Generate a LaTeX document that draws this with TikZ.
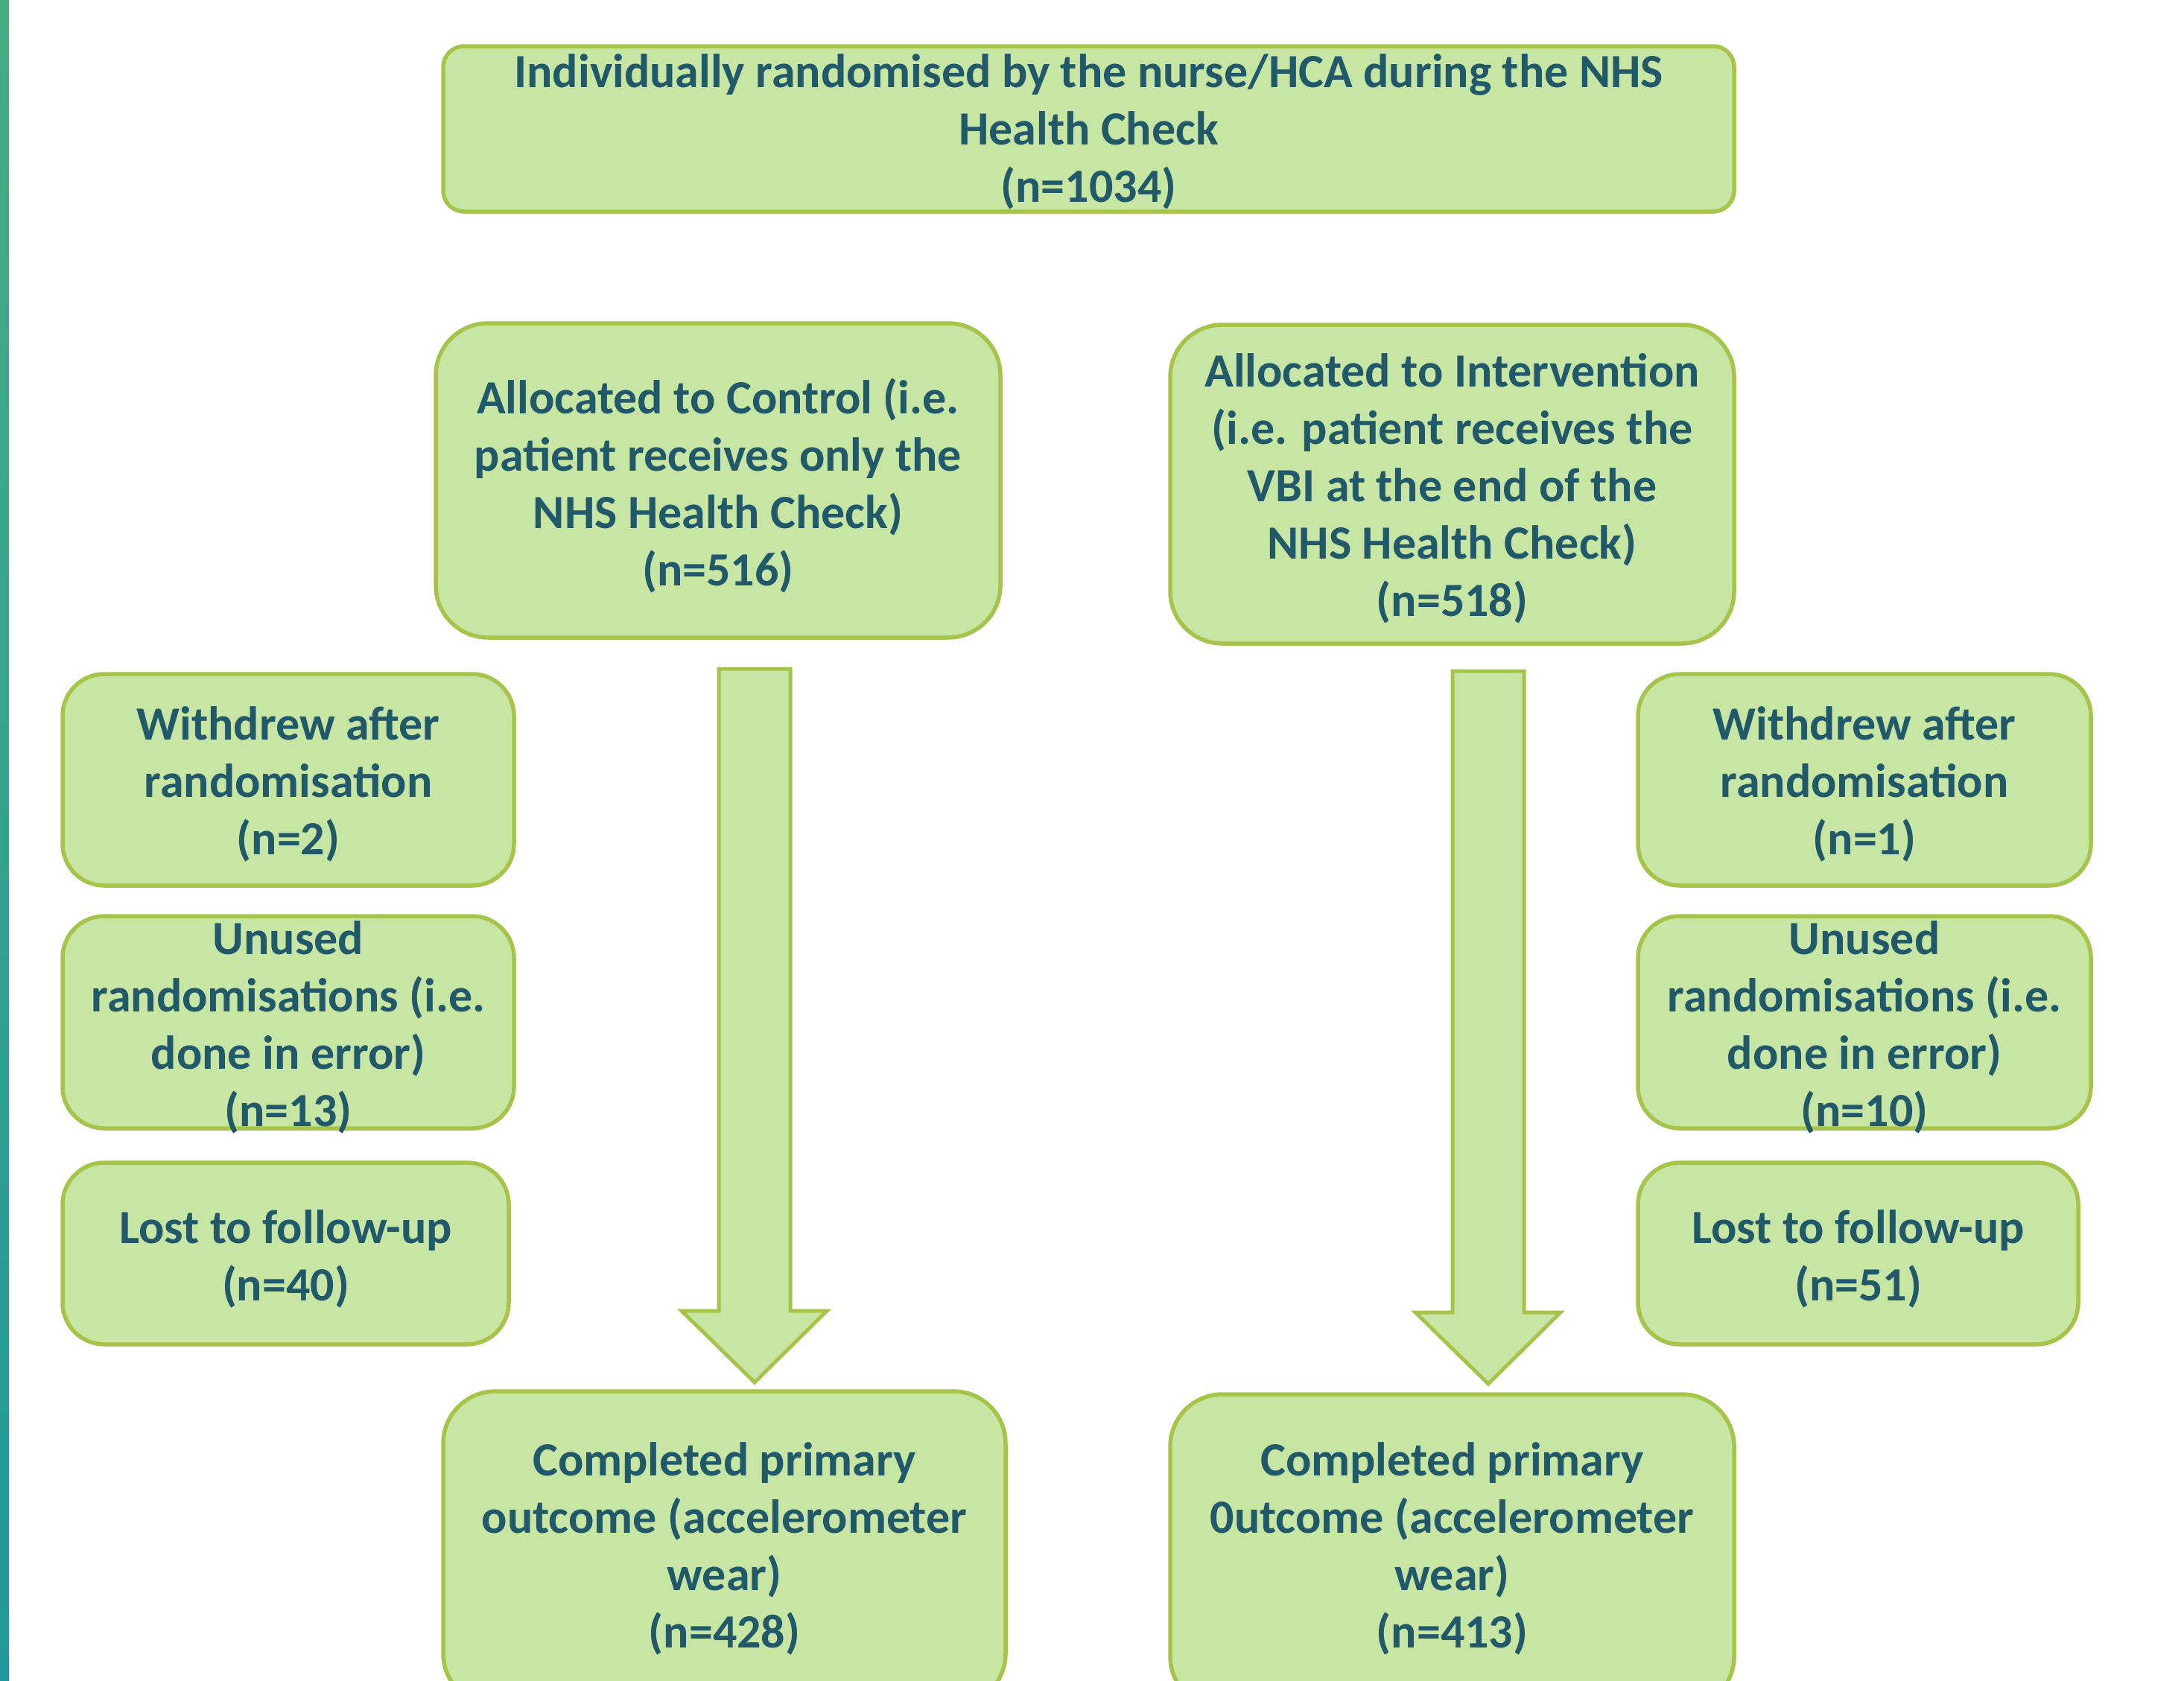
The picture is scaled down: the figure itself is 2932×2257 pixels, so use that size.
\documentclass[tikz,border=0pt]{standalone}
\usepackage{fontspec}
\setmainfont{Carlito}
\definecolor{boxfill}{RGB}{199,230,164}
\definecolor{boxline}{RGB}{166,196,74}
\definecolor{txtcol}{RGB}{34,89,106}
\definecolor{bartop}{RGB}{70,173,131}
\definecolor{barbot}{RGB}{34,151,154}
\tikzset{
  box/.style={draw=boxline, fill=boxfill, line width=5.5pt, inner sep=0pt, outer sep=0pt, rounded corners=#1},
  box/.default=56pt,
  txt/.style={text=txtcol, font=\bfseries\fontsize{64}{77}\selectfont, align=center, inner sep=0pt},
  blockarrow/.style={draw=boxline, fill=boxfill, line width=5pt, line join=miter}
}
\begin{document}
\begin{tikzpicture}[x=1pt,y=-1pt]
\useasboundingbox (0,0) rectangle (2932,2257);
\clip (0,0) rectangle (2932,2257);
\shade[top color=bartop, bottom color=barbot] (0,0) rectangle (12,2257);

% top
\node[box=28pt, minimum width=1733pt, minimum height=222pt] (top) at (1461.5,173) {};
\node[txt] (toptxt) at (1461.5,177) {Individually randomised by the nurse/HCA during the NHS\\Health Check\\(n=1034)};

% allocation boxes
\node[box=70pt, minimum width=758pt, minimum height=422pt] (ctrl) at (964,645) {};
\node[txt] (ctrltxt) at (964,652) {Allocated to Control (i.e.\\patient receives only the\\NHS Health Check)\\(n=516)};
\node[box=70pt, minimum width=757pt, minimum height=428pt] (interv) at (1949.5,650) {};
\node[txt] (intervtxt) at (1949.5,656) {Allocated to Intervention\\(i.e. patient receives the\\VBI at the end of the\\NHS Health Check)\\(n=518)};

% left side boxes
\node[box, minimum width=606pt, minimum height=284pt] (lw) at (387,1047) {};
\node[txt] (lwtxt) at (387,1053) {Withdrew after\\randomisation\\(n=2)};
\node[box, minimum width=606pt, minimum height=285pt] (lu) at (387,1372.5) {};
\node[txt] (lutxt) at (387,1379) {Unused\\randomisations (i.e.\\done in error)\\(n=13)};
\node[box, minimum width=599pt, minimum height=244pt] (ll) at (383.5,1683) {};
\node[txt] (lltxt) at (383.5,1690) {Lost to follow-up\\(n=40)};

% right side boxes
\node[box, minimum width=608pt, minimum height=284pt] (rw) at (2503,1047) {};
\node[txt] (rwtxt) at (2503,1053) {Withdrew after\\randomisation\\(n=1)};
\node[box, minimum width=608pt, minimum height=285pt] (ru) at (2503,1372.5) {};
\node[txt] (rutxt) at (2503,1379) {Unused\\randomisations (i.e.\\done in error)\\(n=10)};
\node[box, minimum width=591pt, minimum height=244pt] (rl) at (2494.5,1683) {};
\node[txt] (rltxt) at (2494.5,1690) {Lost to follow-up\\(n=51)};

% bottom boxes
\node[box=70pt, minimum width=755pt, minimum height=422pt] (bl) at (972.5,2079) {};
\node[txt] (bltxt) at (972.5,2079) {Completed primary\\outcome (accelerometer\\wear)\\(n=428)};
\node[box=70pt, minimum width=757pt, minimum height=422pt] (br) at (1949.5,2083) {};
\node[txt] (brtxt) at (1949.5,2079) {Completed primary\\0utcome (accelerometer\\wear)\\(n=413)};

% block arrows
\draw[blockarrow] (965,898) -- (1061,898) -- (1061,1760) -- (1110,1760) -- (1013,1856) -- (915,1760) -- (965,1760) -- cycle;
\draw[blockarrow] (1950,901) -- (2046,901) -- (2046,1762) -- (2095,1762) -- (1998,1858) -- (1900,1762) -- (1950,1762) -- cycle;
\end{tikzpicture}
\end{document}
